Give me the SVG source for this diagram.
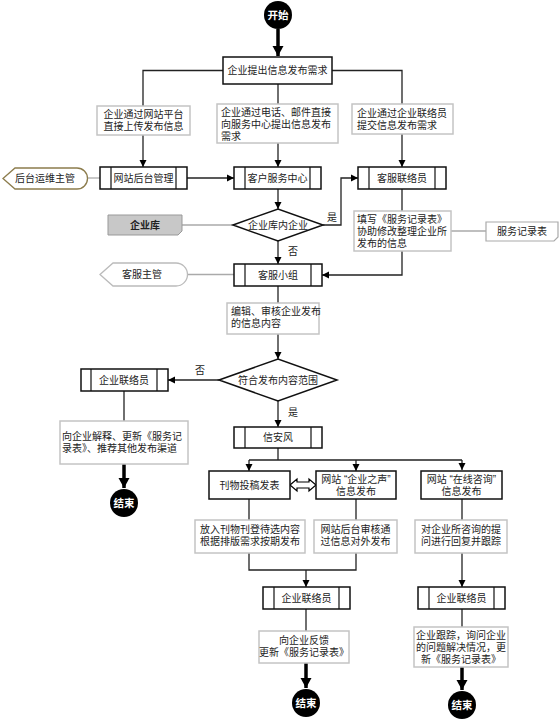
<svg xmlns="http://www.w3.org/2000/svg" width="559" height="720" viewBox="0 0 559 720">
<style>
text{font-family:"Liberation Sans","Noto Sans CJK SC",sans-serif;font-size:10px;fill:#222}
.c{text-anchor:middle}
.box{fill:#fff;stroke:#111;stroke-width:1.5}
.pl{fill:none;stroke:#111;stroke-width:1.2}
.lbl{fill:#fff;stroke:#c4c4c4;stroke-width:1.5}
.ln{fill:none;stroke:#222;stroke-width:1.3}
.gl{fill:none;stroke:#aaa;stroke-width:1.3}
.tk{fill:none;stroke:#000;stroke-width:3.5}
.term{fill:#000}
.tt{fill:#fff;font-weight:bold;font-size:10.5px;text-anchor:middle}
</style>
<defs>
<marker id="a" markerUnits="userSpaceOnUse" markerWidth="8" markerHeight="8" refX="7" refY="4" orient="auto"><path d="M0,0.5 L7,4 L0,7.5 Z" fill="#000"/></marker>
<marker id="b" markerUnits="userSpaceOnUse" markerWidth="12" markerHeight="12" refX="10" refY="6" orient="auto"><path d="M0,0.5 L10,6 L0,11.5 Z" fill="#000"/></marker>
</defs>

<g id="connectors">
<path class="tk" d="M278,29 V56" marker-end="url(#b)"/>
<path class="ln" d="M223,70.5 H143 V106"/>
<path class="ln" d="M143,135 V167" marker-end="url(#a)"/>
<path class="ln" d="M278,84 V104"/>
<path class="ln" d="M278,143 V167" marker-end="url(#a)"/>
<path class="ln" d="M332,70.5 H402 V104"/>
<path class="ln" d="M402,134 V167" marker-end="url(#a)"/>
<path class="ln" d="M187,178 H234" marker-end="url(#a)"/>
<path class="gl" d="M88,178 H100"/>
<path class="ln" d="M278,189 V209" marker-end="url(#a)"/>
<path class="gl" d="M182,225 H233"/>
<path class="ln" d="M323,225 H341 V178 H358" marker-end="url(#a)"/>
<path class="ln" d="M402,189 V211"/>
<path class="ln" d="M402,251 V275 H322" marker-end="url(#a)"/>
<path class="gl" d="M451,231 H486"/>
<path class="ln" d="M278,241 V264" marker-end="url(#a)"/>
<path class="gl" d="M187,274.5 H234"/>
<path class="ln" d="M278,286 V303"/>
<path class="ln" d="M278,334 V359" marker-end="url(#a)"/>
<path class="ln" d="M219,380 H168" marker-end="url(#a)"/>
<path class="ln" d="M124,391 V421"/>
<path class="tk" d="M124,464 V488" marker-end="url(#b)"/>
<path class="ln" d="M278,401 V427" marker-end="url(#a)"/>
<path class="ln" d="M278,448 V460 M249,460 H462"/>
<path class="ln" d="M249,460 V471" marker-end="url(#a)"/>
<path class="ln" d="M356,460 V471" marker-end="url(#a)"/>
<path class="ln" d="M462,460 V470" marker-end="url(#a)"/>
<polygon points="290,485 297,479 297,482 309,482 309,479 316,485 309,491 309,488 297,488 297,491" fill="#fff" stroke="#000" stroke-width="1.2"/>
<path class="ln" d="M249,499 V520 M356,499 V520 M462,499 V520"/>
<path class="ln" d="M249,553 V570 H356 V553"/>
<path class="ln" d="M306,570 V587" marker-end="url(#a)"/>
<path class="ln" d="M462,553 V587" marker-end="url(#a)"/>
<path class="ln" d="M306,609 V631"/>
<path class="tk" d="M306,663 V688" marker-end="url(#b)"/>
<path class="ln" d="M462,609 V627"/>
<path class="tk" d="M462,667 V690" marker-end="url(#b)"/>
<text x="327" y="221">是</text>
<text x="288" y="255">否</text>
<text x="195" y="374">否</text>
<text x="288" y="416">是</text>
</g>

<g id="start"><circle class="term" cx="278" cy="15" r="14"/><text class="tt" x="278" y="19">开始</text></g>

<g id="n_req"><rect class="box" x="223" y="57" width="109" height="27"/><text class="c" x="277.5" y="74">企业提出信息发布需求</text></g>

<g id="l_web"><rect class="lbl" x="97" y="106" width="93" height="29"/><text class="c"><tspan x="143.5" y="118">企业通过网站平台</tspan><tspan x="143.5" y="130">直接上传发布信息</tspan></text></g>
<g id="l_phone"><rect class="lbl" x="217" y="104" width="121" height="39"/><text><tspan x="221" y="116">企业通过电话、邮件直接</tspan><tspan x="221" y="128">向服务中心提出信息发布</tspan><tspan x="221" y="140">需求</tspan></text></g>
<g id="l_liaison"><rect class="lbl" x="352" y="104" width="101" height="30"/><text><tspan x="357" y="117">企业通过企业联络员</tspan><tspan x="357" y="129">提交信息发布需求</tspan></text></g>

<g id="n_webadmin"><rect class="box" x="100" y="167" width="87" height="22"/><path class="pl" d="M111,167 V189 M176,167 V189"/><text class="c" x="143.5" y="182">网站后台管理</text></g>
<g id="n_center"><rect class="box" x="234" y="167" width="87" height="22"/><path class="pl" d="M245,167 V189 M310,167 V189"/><text class="c" x="277.5" y="182">客户服务中心</text></g>
<g id="n_csliaison"><rect class="box" x="358" y="167" width="88" height="22"/><path class="pl" d="M369,167 V189 M435,167 V189"/><text class="c" x="402" y="182">客服联络员</text></g>

<g id="n_ops"><path d="M3,178.5 L15,168 H77 A10.5,10.5 0 0 1 77,189 H15 Z" fill="#fff" stroke="#8c7c4c" stroke-width="1.3"/><text class="c" x="45" y="182">后台运维主管</text></g>

<g id="d_inlib"><polygon points="233,225 278,209 323,225 278,241" fill="#fff" stroke="#111" stroke-width="1.5"/><text class="c" x="278" y="229">企业库内企业</text></g>
<g id="n_lib"><path d="M108,215 H182 V231 L178,235 H108 Z" fill="#c8c8c8" stroke="#999" stroke-width="1"/><text class="c" x="145" y="229" style="font-weight:bold">企业库</text></g>

<g id="l_fill"><rect class="lbl" x="354" y="211" width="97" height="40"/><text><tspan x="357" y="223">填写《服务记录表》</tspan><tspan x="357" y="235">协助修改整理企业所</tspan><tspan x="357" y="247">发布的信息</tspan></text></g>
<g id="n_record"><path d="M486,222 H558 V237 L554,241 H486 Z" fill="#fff" stroke="#aaa" stroke-width="1.2"/><text class="c" x="522" y="235">服务记录表</text></g>

<g id="n_team"><rect class="box" x="234" y="264" width="88" height="22"/><path class="pl" d="M245,264 V286 M311,264 V286"/><text class="c" x="278" y="279">客服小组</text></g>
<g id="n_sup"><path d="M100,274.5 L113,263 H176 A11.5,11.5 0 0 1 176,286 H113 Z" fill="#fff" stroke="#bbb" stroke-width="1.3"/><text class="c" x="142" y="278">客服主管</text></g>

<g id="l_edit"><rect class="lbl" x="227" y="303" width="92" height="31"/><text><tspan x="231" y="315">编辑、审核企业发布</tspan><tspan x="231" y="327">的信息内容</tspan></text></g>

<g id="d_scope"><polygon points="219,380 278,359 337,380 278,401" fill="#fff" stroke="#111" stroke-width="1.5"/><text class="c" x="278" y="384">符合发布内容范围</text></g>

<g id="n_eliaison1"><rect class="box" x="81" y="369" width="87" height="22"/><path class="pl" d="M91,369 V391 M157,369 V391"/><text class="c" x="124" y="384">企业联络员</text></g>
<g id="l_explain"><rect class="lbl" x="60" y="421" width="128" height="43"/><text><tspan x="62" y="440">向企业解释、更新《服务记</tspan><tspan x="62" y="452">录表》、推荐其他发布渠道</tspan></text></g>
<g id="end1"><circle class="term" cx="124" cy="503" r="14"/><text class="tt" x="124" y="507">结束</text></g>

<g id="n_xaf"><rect class="box" x="234" y="427" width="88" height="21"/><path class="pl" d="M245,427 V448 M311,427 V448"/><text class="c" x="278" y="441">信安风</text></g>

<g id="n_print"><rect class="box" x="209" y="471" width="81" height="28"/><text class="c" x="249.5" y="489">刊物投稿发表</text></g>
<g id="n_voice"><rect class="box" x="316" y="471" width="80" height="28"/><text class="c"><tspan x="356" y="483">网站 “企业之声”</tspan><tspan x="356" y="495">信息发布</tspan></text></g>
<g id="n_consult"><rect class="box" x="421" y="471" width="81" height="28"/><text class="c"><tspan x="461.5" y="483">网站 “在线咨询”</tspan><tspan x="461.5" y="495">信息发布</tspan></text></g>

<g id="l_print"><rect class="lbl" x="195" y="520" width="110" height="33"/><text class="c"><tspan x="250" y="533">放入刊物刊登待选内容</tspan><tspan x="250" y="545">根据排版需求按期发布</tspan></text></g>
<g id="l_voice"><rect class="lbl" x="314" y="520" width="83" height="33"/><text class="c"><tspan x="355.5" y="533">网站后台审核通</tspan><tspan x="355.5" y="545">过信息对外发布</tspan></text></g>
<g id="l_consult"><rect class="lbl" x="415" y="520" width="92" height="33"/><text class="c"><tspan x="461" y="533">对企业所咨询的提</tspan><tspan x="461" y="545">问进行回复并跟踪</tspan></text></g>

<g id="n_eliaison2"><rect class="box" x="263" y="587" width="87" height="22"/><path class="pl" d="M274,587 V609 M339,587 V609"/><text class="c" x="306.5" y="602">企业联络员</text></g>
<g id="n_eliaison3"><rect class="box" x="418" y="587" width="87" height="22"/><path class="pl" d="M429,587 V609 M494,587 V609"/><text class="c" x="461.5" y="602">企业联络员</text></g>

<g id="l_feedback"><rect class="lbl" x="259" y="631" width="90" height="32"/><text class="c"><tspan x="304" y="644">向企业反馈</tspan><tspan x="304" y="656">更新《服务记录表》</tspan></text></g>
<g id="l_track"><rect class="lbl" x="414" y="627" width="94" height="40"/><text class="c"><tspan x="461" y="639">企业跟踪，询问企业</tspan><tspan x="461" y="651">的问题解决情况，更</tspan><tspan x="461" y="663">新《服务记录表》</tspan></text></g>

<g id="end2"><circle class="term" cx="306" cy="703" r="14"/><text class="tt" x="306" y="707">结束</text></g>
<g id="end3"><circle class="term" cx="462" cy="705" r="14"/><text class="tt" x="462" y="709">结束</text></g>
</svg>
